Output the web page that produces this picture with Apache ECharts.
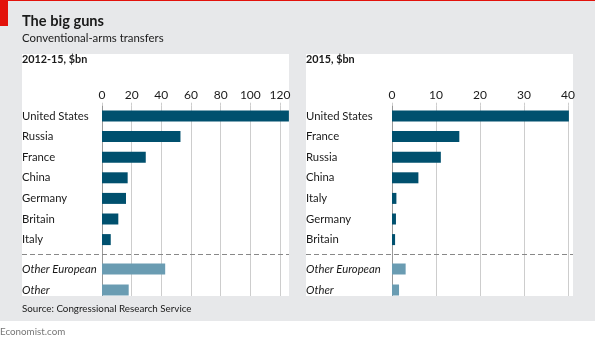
<!DOCTYPE html>
<html><head><meta charset="utf-8">
<script src="https://cdn.jsdelivr.net/npm/echarts@6/dist/echarts.min.js"></script>
<style>html,body{margin:0;padding:0;background:#fff}#c{width:595px;height:341px}</style>
</head><body><div id="c"></div>
<script>
// ---- data ----
const catsLeftMain = ['United States','Russia','France','China','Germany','Britain','Italy'];
const valsLeftMain = [126, 52.9, 29.5, 17.3, 16.2, 11, 5.9];
const catsRightMain = ['United States','France','Russia','China','Italy','Germany','Britain'];
const valsRightMain = [40.2, 15.3, 11.1, 6.0, 1.0, 0.9, 0.7];
const catsOther = ['Other European','Other'];
const valsLeftOther = [42.6, 18];
const valsRightOther = [3.1, 1.6];
const leftAxis = {max: 120, interval: 20};
const rightAxis = {max: 40, interval: 10};

const FONT = 'Lato, "Noto Sans", sans-serif';
const DARK = '#00506e', LIGHT = '#6a9cb2', GRID = '#cdcdcd', TXT = '#1a1a1a';

function xAx(gi, ax, showLabels){
  return {type:'value', gridIndex:gi, min:0, max:ax.max, interval:ax.interval, position:'top',
    axisLine:{show:false},
    axisTick:{show:showLabels, length:3, lineStyle:{color:GRID}},
    axisLabel:{show:showLabels, margin:5, fontFamily:FONT, fontSize:12, color:TXT},
    splitLine:{show:true, lineStyle:{color:GRID, width:1}}};
}
function yAx(gi, data, margin, italic){
  return {type:'category', gridIndex:gi, data:data, inverse:true,
    axisLine:{show:true, lineStyle:{color:'#999', width:1}},
    axisTick:{show:false},
    axisLabel:{align:'left', margin:margin, fontFamily:FONT, fontSize:11.3, color:TXT,
      fontStyle: italic?'italic':'normal', overflow:'none', width:120}};
}
function bar(gi, vals, color){
  return {type:'bar', xAxisIndex:gi, yAxisIndex:gi, data:vals, barWidth:11, clip:false,
    itemStyle:{color:color}, silent:true};
}
const txt = (x,y,t,size,weight,color,extra)=>({type:'text', x:x, y:y, z:60,
  style:Object.assign({text:t, font:(weight||'normal')+' '+size+'px '+FONT, fill:color||TXT, verticalAlign:'middle', align:'left'}, extra||{})});

const option = {
  animation:false,
  grid:[
    {left:102, top:105.7, width:178, height:164.8},
    {left:102, top:258.5, width:178, height:42},
    {left:392, top:105.7, width:176, height:164.8},
    {left:392, top:258.5, width:176, height:42}
  ],
  xAxis:[xAx(0,leftAxis,true), xAx(1,leftAxis,false), xAx(2,rightAxis,true), xAx(3,rightAxis,false)],
  yAxis:[yAx(0,catsLeftMain.concat(['']),80,false), yAx(1,catsOther,80,true),
         yAx(2,catsRightMain.concat(['']),86,false), yAx(3,catsOther,86,true)],
  series:[bar(0,valsLeftMain,DARK), bar(1,valsLeftOther,LIGHT), bar(2,valsRightMain,DARK), bar(3,valsRightOther,LIGHT)],
  graphic:[
    {type:'rect', z:-5, shape:{x:0,y:0,width:595,height:321}, style:{fill:'#e7e8ea'}},
    {type:'rect', z:-4, shape:{x:0,y:0,width:595,height:1}, style:{fill:'#e3120b'}},
    {type:'rect', z:-4, shape:{x:0,y:0,width:8,height:26}, style:{fill:'#e3120b'}},
    {type:'rect', z:-4, shape:{x:22,y:54,width:267,height:242}, style:{fill:'#fff'}},
    {type:'rect', z:-4, shape:{x:306,y:54,width:267,height:242}, style:{fill:'#fff'}},
    {type:'rect', z:100, shape:{x:0,y:296,width:595,height:25}, style:{fill:'#e7e8ea'}},
    {type:'line', z:50, shape:{x1:22,y1:254.5,x2:289,y2:254.5}, style:{stroke:'#888', lineWidth:1, lineDash:[5,3]}},
    {type:'line', z:50, shape:{x1:306,y1:254.5,x2:573,y2:254.5}, style:{stroke:'#888', lineWidth:1, lineDash:[5,3]}},
    txt(22,21.5,'The big guns',14.6,'bold'),
    txt(22,38.5,'Conventional-arms transfers',11.4,'normal'),
    txt(22,59.5,'2012-15, $bn',10.8,'bold'),
    txt(306,59.5,'2015, $bn',10.8,'bold'),
    Object.assign(txt(22,309,'Source: Congressional Research Service',9.8,'normal'),{z:110}),
    Object.assign(txt(0,331.5,'Economist.com',9.8,'normal','#777'),{z:110})
  ]
};
const chart = echarts.init(document.getElementById('c'), null, {renderer:'canvas'});
chart.setOption(option);
</script></body></html>
